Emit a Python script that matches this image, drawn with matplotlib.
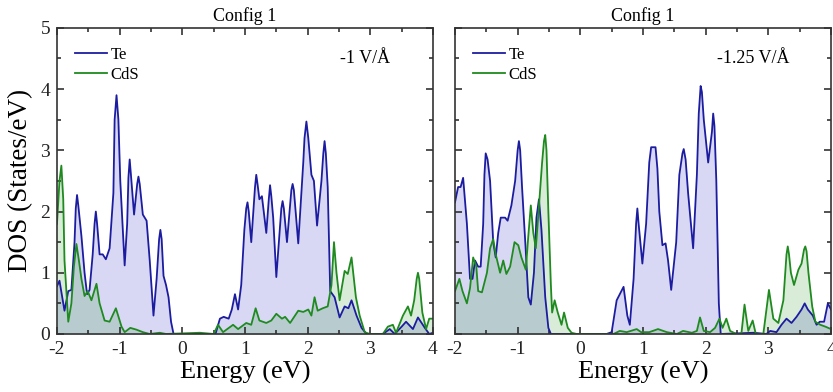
import matplotlib
matplotlib.use("Agg")
import matplotlib.pyplot as plt
from matplotlib.ticker import MultipleLocator

plt.rcParams['font.family'] = ['Liberation Serif', 'DejaVu Serif']
plt.rcParams['axes.unicode_minus'] = False

# ---------------- data ----------------
# Left panel: -1 V/Å
left_te_E = [-2.0, -1.96, -1.88, -1.82, -1.77, -1.72, -1.70, -1.68, -1.66, -1.61, -1.56, -1.52, -1.48, -1.43,
             -1.40, -1.38, -1.36, -1.32, -1.27, -1.22, -1.16, -1.10, -1.08, -1.05, -1.02, -0.99, -0.92, -0.88,
             -0.86, -0.84, -0.82, -0.77, -0.72, -0.70, -0.68, -0.63, -0.57, -0.52, -0.46, -0.41, -0.37, -0.35,
             -0.33, -0.30, -0.26, -0.22, -0.18, -0.14,
             0.0, 0.53, 0.60, 0.66, 0.74, 0.79, 0.84, 0.89, 0.94, 0.99, 1.02, 1.04, 1.06, 1.10, 1.16, 1.18, 1.20, 1.23,
             1.27, 1.34, 1.38, 1.40, 1.42, 1.45, 1.50, 1.58, 1.60, 1.62, 1.67, 1.74, 1.76, 1.78, 1.85, 1.93, 1.95,
             1.98, 2.01, 2.06, 2.10, 2.15, 2.22, 2.25, 2.27, 2.29, 2.32, 2.36, 2.43, 2.51, 2.59, 2.65, 2.70,
             2.78, 2.86, 2.94, 3.20, 3.31, 3.39, 3.50, 3.57, 3.68, 3.76, 3.87, 3.94, 4.0]
left_te_D = [0.78, 0.87, 0.38, 0.70, 0.72, 1.5, 2.05, 2.27, 2.1, 1.6, 1.0, 0.65, 0.72, 1.3,
             1.8, 2.0, 1.8, 1.3, 1.3, 1.22, 1.4, 2.3, 3.5, 3.9, 3.5, 2.5, 1.12, 1.8,
             2.55, 2.85, 2.6, 1.95, 2.45, 2.57, 2.45, 1.95, 1.85, 1.2, 0.3, 0.9, 1.55, 1.7,
             1.55, 0.95, 0.8, 0.6, 0.2, 0.0,
             0.0, 0.0, 0.25, 0.28, 0.25, 0.4, 0.65, 0.4, 0.8, 1.7, 2.05, 2.15, 2.0, 1.5, 2.4, 2.6, 2.45, 2.2,
             2.25, 1.65, 2.2, 2.43, 2.25, 1.9, 0.93, 2.05, 2.17, 2.05, 1.5, 2.35, 2.45, 2.35, 1.48, 2.8, 3.2,
             3.47, 3.2, 2.6, 2.5, 1.77, 2.5, 2.95, 3.15, 2.95, 2.4, 0.7, 0.6, 0.27, 0.45, 0.42, 0.55,
             0.3, 0.1, 0.0, 0.0, 0.08, 0.0, 0.12, 0.2, 0.08, 0.27, 0.1, 0.0, 0.02]

left_cds_E = [-2.0, -1.96, -1.93, -1.90, -1.88, -1.82, -1.77, -1.73, -1.69, -1.65, -1.61, -1.56, -1.51,
              -1.45, -1.37, -1.32, -1.24, -1.16, -1.06, -0.97, -0.92, -0.83, -0.73, -0.63, -0.52,
              -0.36, -0.26, 0.28, 0.50, 0.57, 0.65, 0.81, 0.89, 1.02, 1.10, 1.17, 1.23, 1.34,
              1.42, 1.50, 1.59, 1.64, 1.72, 1.85, 1.93, 2.01, 2.06, 2.11, 2.16, 2.24, 2.32,
              2.38, 2.42, 2.46, 2.51, 2.59, 2.64, 2.70, 2.77, 2.83, 2.91, 2.99, 3.20, 3.28,
              3.36, 3.41, 3.52, 3.60, 3.65, 3.70, 3.74, 3.76, 3.78, 3.83, 3.89, 3.94, 4.0]
left_cds_D = [1.8, 2.5, 2.75, 2.2, 1.2, 0.2, 0.5, 1.1, 1.47, 1.2, 0.9, 0.62, 0.7,
              0.55, 0.82, 0.5, 0.22, 0.2, 0.42, 0.12, 0.03, 0.1, 0.07, 0.03, 0.0,
              0.02, 0.0, 0.02, 0.0, 0.15, 0.03, 0.15, 0.08, 0.18, 0.15, 0.42, 0.22, 0.18,
              0.22, 0.33, 0.25, 0.28, 0.18, 0.38, 0.36, 0.4, 0.3, 0.6, 0.38, 0.42, 0.45,
              0.8, 1.5, 1.0, 0.55, 1.03, 0.98, 1.25, 0.6, 0.3, 0.03, 0.0, 0.0, 0.12,
              0.15, 0.02, 0.3, 0.45, 0.3, 0.55, 0.9, 1.0, 0.9, 0.35, 0.08, 0.25, 0.25]

# Right panel: -1.25 V/Å
right_te_E = [-2.0, -1.95, -1.91, -1.87, -1.81, -1.76, -1.72, -1.68, -1.63, -1.59, -1.55, -1.53, -1.51,
              -1.48, -1.44, -1.39, -1.35, -1.31, -1.27, -1.20, -1.16, -1.10, -1.04, -1.00, -0.98, -0.96, -0.93,
              -0.87, -0.83, -0.79, -0.74, -0.70, -0.66, -0.62, -0.56, -0.51, -0.47, 0.42, 0.50, 0.58,
              0.69, 0.75, 0.79, 0.85, 0.89, 0.91, 0.93, 0.99, 1.05, 1.10, 1.13, 1.20, 1.23, 1.26, 1.31, 1.36, 1.40,
              1.45, 1.53, 1.58, 1.63, 1.65, 1.68, 1.72, 1.80, 1.86, 1.89, 1.92, 1.94, 1.97, 2.04, 2.10, 2.12, 2.14,
              2.17, 2.21, 2.24, 2.77, 2.97, 3.03, 3.13, 3.21, 3.29, 3.37, 3.45, 3.53, 3.58, 3.63, 3.71,
              3.77, 3.82, 3.89, 3.95, 4.0]
right_te_D = [2.15, 2.4, 2.4, 2.55, 1.8, 0.9, 0.9, 1.2, 1.1, 1.1, 1.8, 2.6, 2.95,
              2.85, 2.5, 1.5, 1.25, 1.65, 1.9, 1.9, 1.85, 2.1, 2.5, 3.0, 3.15, 3.0, 2.4,
              1.35, 0.6, 0.48, 1.0, 1.9, 2.2, 1.7, 0.6, 0.1, 0.0, 0.0, 0.03, 0.55,
              0.77, 0.3, 0.15, 0.9, 1.8, 2.05, 1.8, 1.15, 1.8, 2.8, 3.05, 3.05, 2.7, 2.0, 1.45, 1.48, 1.2,
              0.72, 1.5, 2.6, 2.95, 3.02, 2.85, 2.3, 1.4, 2.6, 3.6, 4.05, 3.95, 3.5, 2.8, 3.3, 3.6, 3.4,
              2.5, 0.5, 0.0, 0.02, 0.0, 0.05, 0.03, 0.15, 0.25, 0.18, 0.28, 0.4, 0.5, 0.4, 0.3,
              0.15, 0.2, 0.2, 0.5, 0.4]

right_cds_E = [-2.0, -1.93, -1.88, -1.81, -1.76, -1.71, -1.66, -1.63, -1.57, -1.49, -1.44, -1.39,
               -1.35, -1.28, -1.23, -1.18, -1.12, -1.05, -0.99, -0.94, -0.87, -0.83, -0.79, -0.75,
               -0.71, -0.67, -0.61, -0.58, -0.56, -0.54, -0.51, -0.47, -0.45, -0.41, -0.36, -0.30, -0.26, -0.20,
               -0.14, -0.06, 0.53, 0.63, 0.74, 0.90, 0.97, 1.10, 1.24, 1.38, 1.54, 1.64, 1.78,
               1.86, 1.91, 1.97, 2.07, 2.15, 2.22, 2.27, 2.33, 2.39, 2.49, 2.57, 2.62, 2.68,
               2.75, 2.80, 2.92, 3.01, 3.08, 3.16, 3.24, 3.29, 3.31, 3.33, 3.36, 3.41, 3.48, 3.53, 3.57, 3.59,
               3.61, 3.64, 3.70, 3.75, 3.83, 3.91, 4.0]
right_cds_D = [0.7, 0.9, 0.7, 0.5, 0.75, 1.25, 1.1, 0.7, 0.68, 1.0, 1.4, 1.55,
               1.3, 1.0, 1.2, 0.98, 1.1, 1.5, 1.45, 1.25, 1.05, 1.6, 2.1, 1.65,
               1.4, 1.95, 2.8, 3.15, 3.25, 3.0, 2.0, 0.8, 0.35, 0.55, 0.35, 0.15, 0.35, 0.1,
               0.02, 0.0, 0.0, 0.05, 0.03, 0.08, 0.03, 0.03, 0.08, 0.03, 0.0, 0.05, 0.02,
               0.05, 0.27, 0.05, 0.03, 0.1, 0.25, 0.1, 0.25, 0.05, 0.0, 0.0, 0.48, 0.05,
               0.22, 0.0, 0.0, 0.72, 0.25, 0.18, 0.55, 1.3, 1.43, 1.3, 1.0, 0.8, 1.05, 1.15, 1.38, 1.43,
               1.35, 1.0, 0.45, 0.2, 0.15, 0.12, 0.08]

panels = [
    ("Config 1", "-1 V/Å", left_te_E, left_te_D, left_cds_E, left_cds_D),
    ("Config 1", "-1.25 V/Å", right_te_E, right_te_D, right_cds_E, right_cds_D),
]
series_labels = ["Te", "CdS"]
xticks = [-2, -1, 0, 1, 2, 3, 4]
yticks = [0, 1, 2, 3, 4, 5]

# ---------------- figure ----------------
fig = plt.figure(figsize=(8.33, 3.92), dpi=100)
rects = [[0.0684, 0.148, 0.4514, 0.781], [0.5462, 0.148, 0.4514, 0.781]]
field_x = [0.885, 0.89]

blue = '#1c1ca0'
green = '#1f8a1f'
blue_fill = '#2a2ac8'
green_fill = '#2a9a2a'

for i, (title, field, teE, teD, cdE, cdD) in enumerate(panels):
    ax = fig.add_axes(rects[i])
    ax.fill_between(teE, teD, 0, color=blue_fill, alpha=0.18, lw=0)
    ax.fill_between(cdE, cdD, 0, color=green_fill, alpha=0.18, lw=0)
    ax.plot(teE, teD, color=blue, lw=1.3, label=series_labels[0], solid_joinstyle='round')
    ax.plot(cdE, cdD, color=green, lw=1.3, label=series_labels[1], solid_joinstyle='round')
    ax.set_xlim(-2, 4)
    ax.set_ylim(0, 5)
    ax.set_xticks(xticks)
    ax.set_yticks(yticks)
    ax.xaxis.set_minor_locator(MultipleLocator(0.5))
    ax.yaxis.set_minor_locator(MultipleLocator(0.5))
    ax.tick_params(which='both', direction='in', top=True, right=True,
                   labelsize=14, width=1.1, colors='#222222')
    ax.tick_params(which='major', length=5, pad=5)
    ax.tick_params(which='minor', length=3)
    for s in ax.spines.values():
        s.set_linewidth(1.2)
        s.set_color('#333333')
    ax.set_title(title, fontsize=13, pad=5)
    ax.set_xlabel("Energy (eV)", fontsize=19, labelpad=2)
    if i == 0:
        ax.set_ylabel("DOS (States/eV)", fontsize=19.5, labelpad=5)
    else:
        ax.set_yticklabels([])
    ax.text(field_x[i], 0.90, field, transform=ax.transAxes, ha='right', va='center', fontsize=13)
    ax.legend(loc='upper left', frameon=False, fontsize=12, handlelength=1.9,
              handletextpad=0.25, borderaxespad=0.0, labelspacing=0.25,
              bbox_to_anchor=(0.03, 0.96))

fig.savefig("out.png", dpi=100)
